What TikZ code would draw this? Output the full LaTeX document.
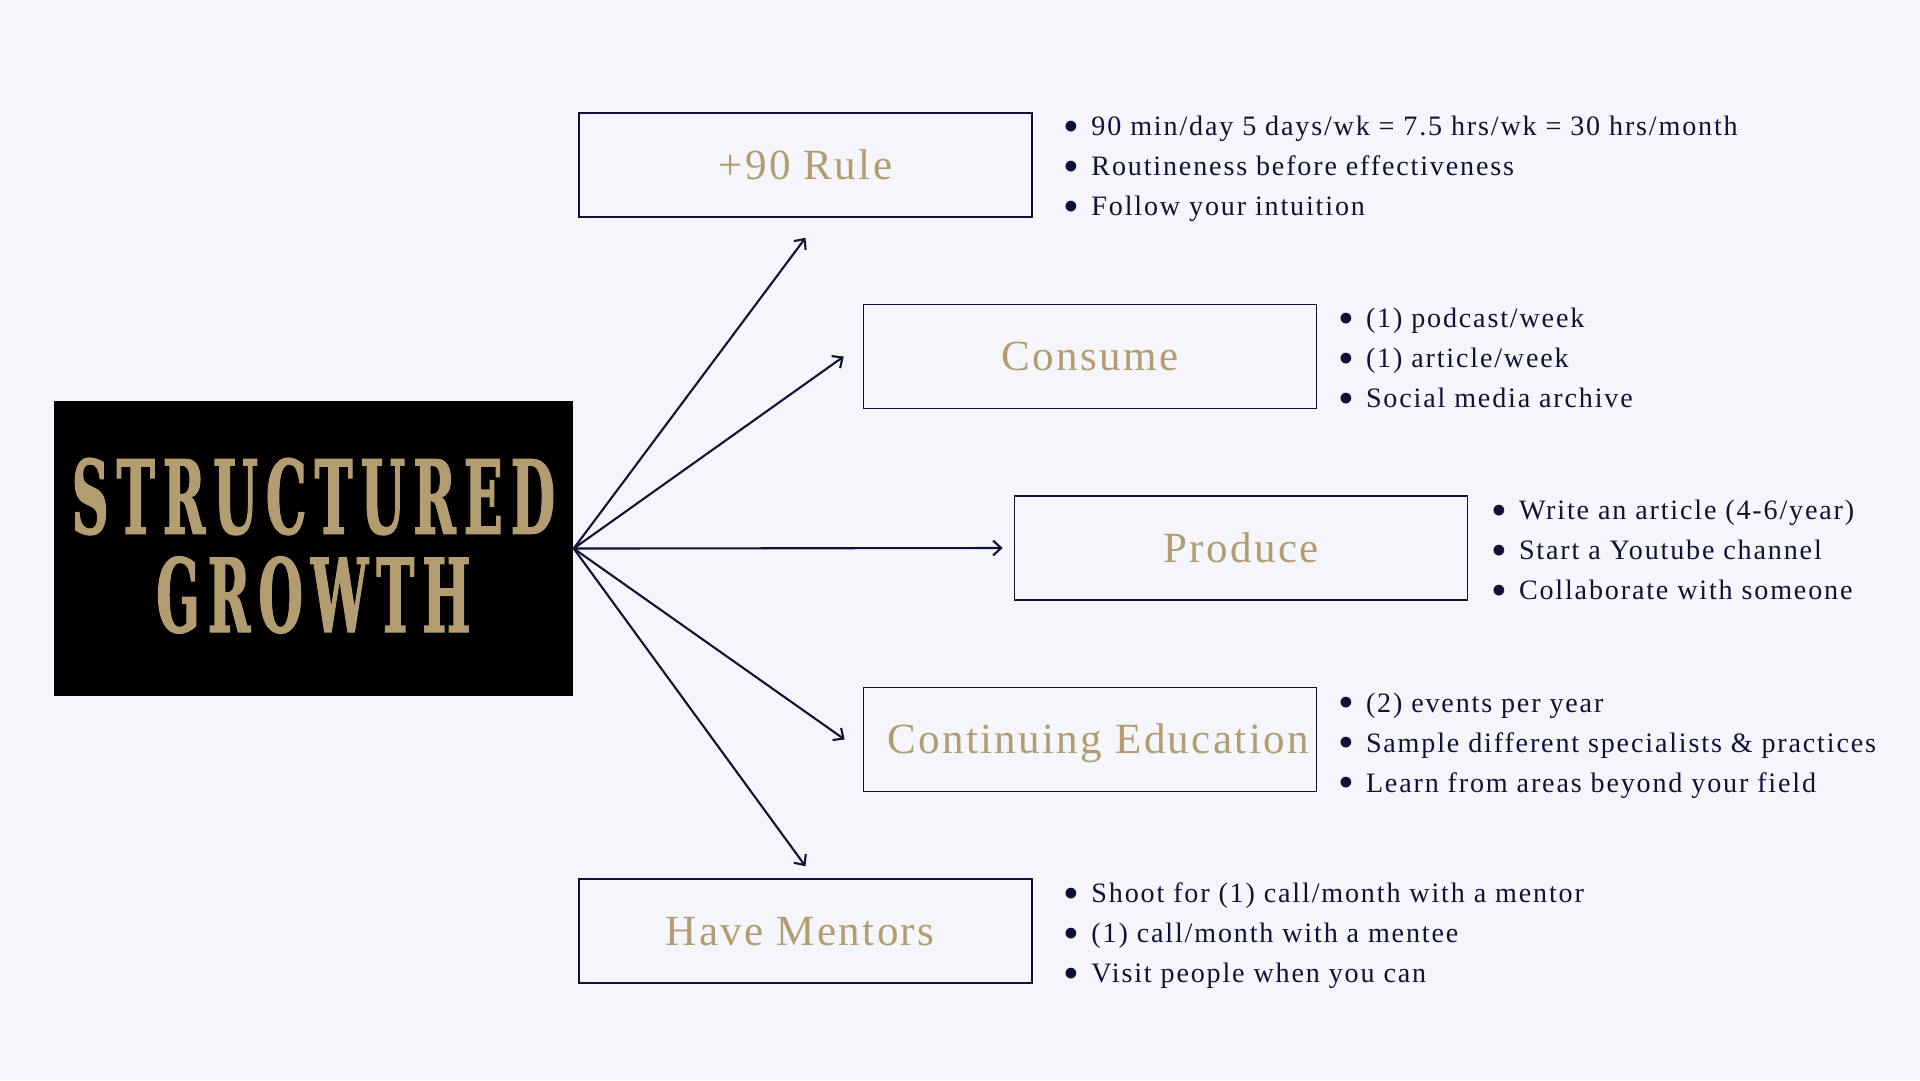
\documentclass[tikz,border=0pt]{standalone}
\usepackage{fontspec}
\usepackage{xcolor}
\usepackage{tikz}
\usetikzlibrary{arrows.meta,positioning}
\setmainfont{Liberation Serif}
\newfontfamily\boxfont[LetterSpace=5.5]{Liberation Serif}
\newfontfamily\listfont[LetterSpace=6.5]{Liberation Serif}
\newfontfamily\titlefont[FakeStretch=0.5,LetterSpace=8,FakeBold=1.2]{DejaVu Serif}
\definecolor{paper}{HTML}{F5F6FC}
\definecolor{navy}{HTML}{0F1236}
\definecolor{gold}{HTML}{B39C70}
\newcommand{\itm}[1]{\makebox[2.8mm][l]{\raisebox{-0.2em}{\scalebox{1.6}{\textbullet}}}#1}

\begin{document}
\begin{tikzpicture}[x=0.1mm,y=-0.1mm,
    title/.style={fill=black,text=gold,minimum width=51.9mm,minimum height=29.5mm,align=center,inner sep=0pt,
      text depth=0.7mm,font=\titlefont\bfseries\fontsize{29pt}{28pt}\selectfont},
    topic/.style={draw=navy,line width=0.45pt,text=gold,minimum width=45.3mm,minimum height=10.4mm,inner sep=0pt,
      text height=0.8em,text depth=0pt,font=\boxfont\fontsize{12.25pt}{14pt}\selectfont},
    list/.style={text=navy,align=left,inner sep=0pt,font=\listfont\fontsize{8pt}{11.38pt}\selectfont},
    ar/.style={draw=navy,line width=0.6pt,-{Straight Barb[length=2.3pt,width=4.2pt]}}]
   \fill[paper] (0,0) rectangle (1920,1080);
   \useasboundingbox (0,0) rectangle (1920,1080);
   \node[title] (sg)  at (313.5,548.5) {STRUCTURED\\GROWTH};
   \node[topic] (rule) at (805.5,165)  {+90 Rule};
   \node[topic] (cons) at (1090,356.5) {Consume};
   \node[topic] (prod) at (1241,548)   {Produce};
   \node[topic] (edu)  at (1090,739.5) {\hspace{1.6mm}Continuing Education};
   \node[topic] (ment) at (805.5,931)  {Have Mentors\rule{1.1mm}{0pt}};
   \node[list,right=3mm of rule,yshift=-0.37mm] (rulel) {\itm{90 min/day 5 days/wk = 7.5 hrs/wk = 30 hrs/month}\\
     \itm{Routineness before effectiveness}\\\itm{Follow your intuition}};
   \node[list,right=2mm of cons,yshift=-0.45mm] (consl) {\itm{(1) podcast/week}\\\itm{(1) article/week}\\\itm{Social media archive}};
   \node[list,right=2.2mm of prod,yshift=-0.45mm] (prodl) {\itm{Write an article (4-6/year)}\\\itm{Start a Youtube channel}\\
     \itm{Collaborate with someone}};
   \node[list,right=2mm of edu,yshift=-0.6mm] (edul) {\itm{(2) events per year}\\\itm{Sample different specialists \& practices}\\
     \itm{Learn from areas beyond your field}};
   \node[list,right=3mm of ment,yshift=-0.5mm] (mentl) {\itm{Shoot for (1) call/month with a mentor}\\
     \itm{(1) call/month with a mentee}\\\itm{Visit people when you can}};
   \coordinate (tr) at ([yshift=-2mm]rule.south);
   \coordinate (tc) at ([xshift=-1.9mm]cons.west);
   \coordinate (tp) at ([xshift=-1.1mm]prod.west);
   \coordinate (te) at ([xshift=-1.8mm]edu.west);
   \coordinate (tm) at ([yshift=1.2mm]ment.north);
   \draw[ar] (sg.east)--(tr); \draw[ar] (sg.east)--(tc);
   \draw[ar] (sg.east)--(tp); \draw[ar] (sg.east)--(te);
   \draw[ar] (sg.east)--(tm);
  \end{tikzpicture}
\end{document}
